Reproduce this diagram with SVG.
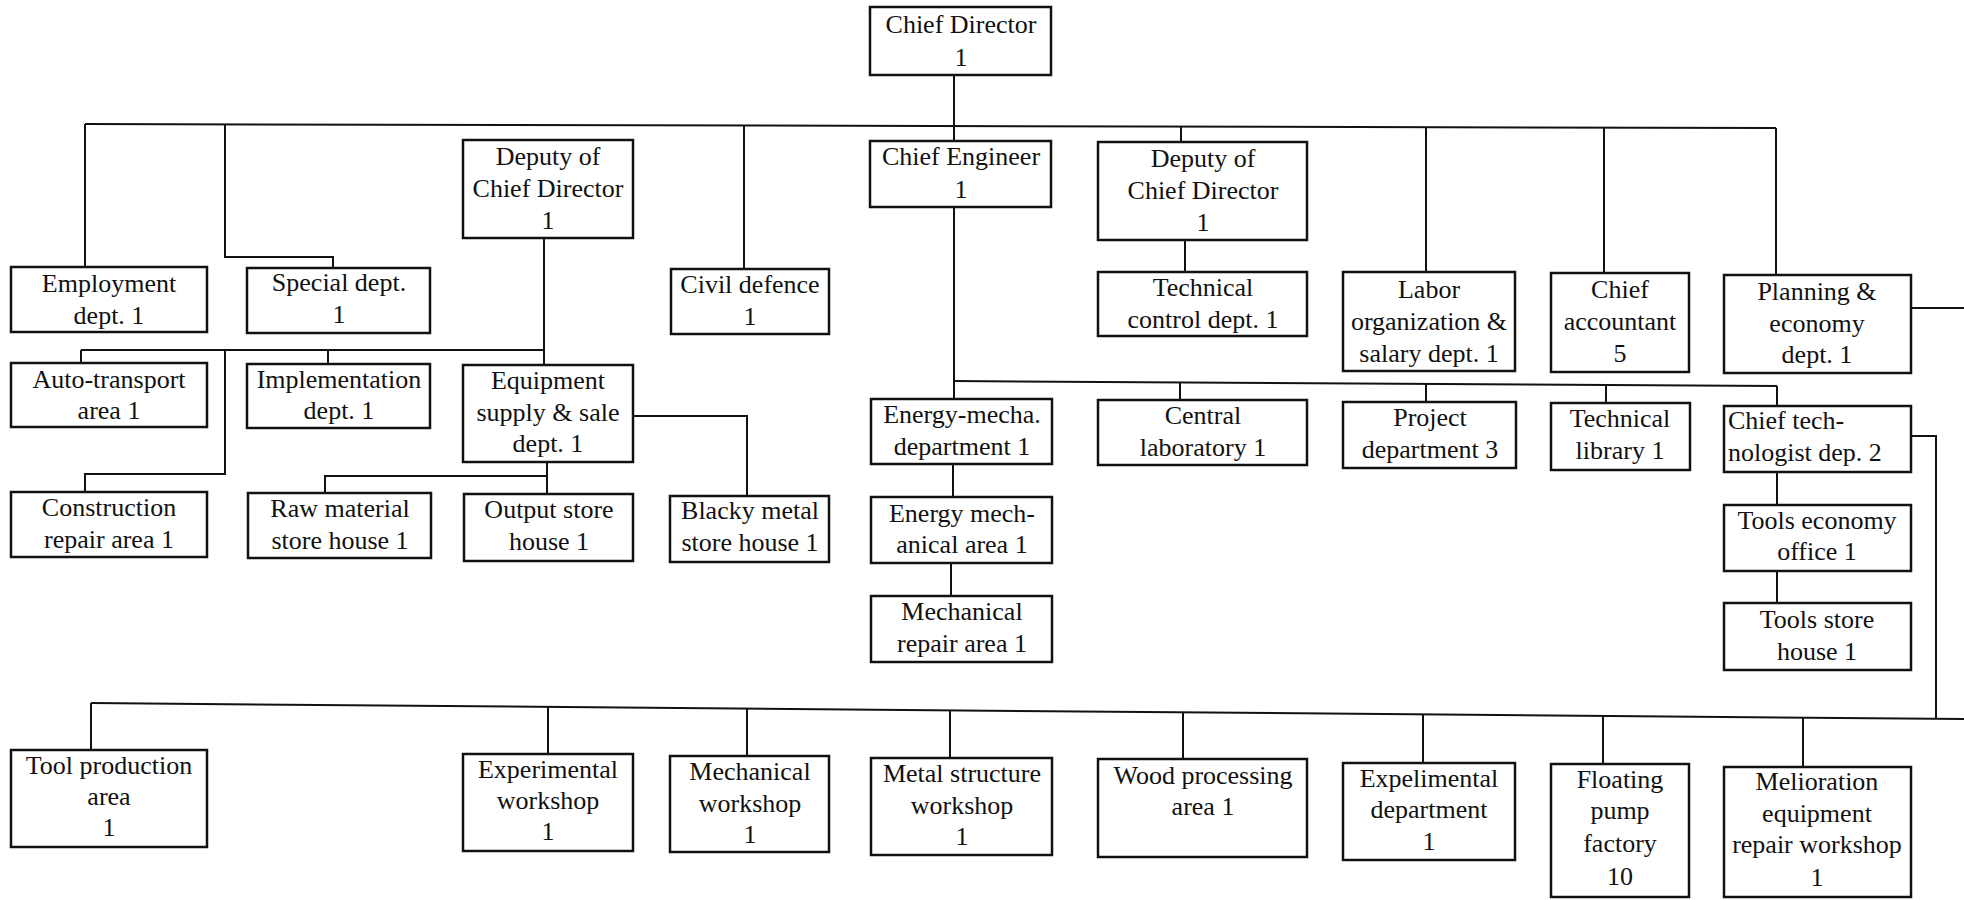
<svg xmlns="http://www.w3.org/2000/svg" width="1964" height="900" viewBox="0 0 1964 900">
<style>
rect.b{fill:#fff;stroke:#111;stroke-width:2.5}
text{font-family:"Liberation Serif","Times New Roman",serif;font-size:26px;fill:#111;text-anchor:middle}
text.l{text-anchor:start}
.c{fill:none;stroke:#111;stroke-width:2}
</style>
<rect width="1964" height="900" fill="#fff"/>
<g id="connectors" class="c">
<path d="M954 75V141"/>
<path d="M85 124L1776 128"/>
<path d="M85 124V267"/>
<path d="M225 124V257H333V268"/>
<path d="M744 125V269"/>
<path d="M1181 126V142"/>
<path d="M1426 127V272"/>
<path d="M1604 127V273"/>
<path d="M1776 128V275"/>
<path d="M544 238V365"/>
<path d="M81 350H544"/>
<path d="M81 350V363"/>
<path d="M328 350V364"/>
<path d="M225 350V474H85V492"/>
<path d="M633 416H747V496"/>
<path d="M547 462V494"/>
<path d="M547 476H325V493"/>
<path d="M1185 240V272"/>
<path d="M954 207V399"/>
<path d="M954 381L1777 386"/>
<path d="M1180 382V400"/>
<path d="M1426 384V402"/>
<path d="M1606 385V403"/>
<path d="M1777 386V406"/>
<path d="M953 464V497"/>
<path d="M951 563V596"/>
<path d="M1777 472V505"/>
<path d="M1777 571V603"/>
<path d="M1911 436H1936V718"/>
<path d="M1911 308H1964"/>
<path d="M91 703L1964 719"/>
<path d="M91 703V750"/>
<path d="M548 707V754"/>
<path d="M747 709V756"/>
<path d="M950 711V758"/>
<path d="M1183 713V759"/>
<path d="M1423 715V763"/>
<path d="M1603 717V764"/>
<path d="M1803 718V767"/>
</g>
<g id="chief-director"><rect class="b" x="870" y="7" width="181" height="68"/><text><tspan x="961" y="33">Chief Director</tspan><tspan x="961" y="66">1</tspan></text></g>
<g id="deputy-left"><rect class="b" x="463" y="140" width="170" height="98"/><text><tspan x="548" y="165">Deputy of</tspan><tspan x="548" y="197">Chief Director</tspan><tspan x="548" y="229">1</tspan></text></g>
<g id="chief-engineer"><rect class="b" x="870" y="141" width="181" height="66"/><text><tspan x="961" y="165">Chief Engineer</tspan><tspan x="961" y="198">1</tspan></text></g>
<g id="deputy-right"><rect class="b" x="1098" y="142" width="209" height="98"/><text><tspan x="1203" y="167">Deputy of</tspan><tspan x="1203" y="199">Chief Director</tspan><tspan x="1203" y="231">1</tspan></text></g>
<g id="employment"><rect class="b" x="11" y="267" width="196" height="65"/><text><tspan x="109" y="292">Employment</tspan><tspan x="109" y="324">dept. 1</tspan></text></g>
<g id="special"><rect class="b" x="247" y="268" width="183" height="65"/><text><tspan x="339" y="291">Special dept.</tspan><tspan x="339" y="323">1</tspan></text></g>
<g id="civil-defence"><rect class="b" x="671" y="269" width="158" height="65"/><text><tspan x="750" y="293">Civil defence</tspan><tspan x="750" y="325">1</tspan></text></g>
<g id="technical-control"><rect class="b" x="1098" y="272" width="209" height="64"/><text><tspan x="1203" y="296">Technical</tspan><tspan x="1203" y="328">control dept. 1</tspan></text></g>
<g id="labor"><rect class="b" x="1343" y="272" width="172" height="99"/><text><tspan x="1429" y="298">Labor</tspan><tspan x="1429" y="330">organization &amp;</tspan><tspan x="1429" y="362">salary dept. 1</tspan></text></g>
<g id="chief-accountant"><rect class="b" x="1551" y="273" width="138" height="99"/><text><tspan x="1620" y="298">Chief</tspan><tspan x="1620" y="330">accountant</tspan><tspan x="1620" y="362">5</tspan></text></g>
<g id="planning"><rect class="b" x="1724" y="275" width="187" height="98"/><text><tspan x="1817" y="300">Planning &amp;</tspan><tspan x="1817" y="332">economy</tspan><tspan x="1817" y="363">dept. 1</tspan></text></g>
<g id="auto-transport"><rect class="b" x="11" y="363" width="196" height="64"/><text><tspan x="109" y="388">Auto-transport</tspan><tspan x="109" y="419">area 1</tspan></text></g>
<g id="implementation"><rect class="b" x="247" y="364" width="183" height="64"/><text><tspan x="339" y="388">Implementation</tspan><tspan x="339" y="419">dept. 1</tspan></text></g>
<g id="equipment"><rect class="b" x="463" y="365" width="170" height="97"/><text><tspan x="548" y="389">Equipment</tspan><tspan x="548" y="421">supply &amp; sale</tspan><tspan x="548" y="452">dept. 1</tspan></text></g>
<g id="construction"><rect class="b" x="11" y="492" width="196" height="65"/><text><tspan x="109" y="516">Construction</tspan><tspan x="109" y="548">repair area 1</tspan></text></g>
<g id="raw-material"><rect class="b" x="248" y="493" width="183" height="65"/><text><tspan x="340" y="517">Raw material</tspan><tspan x="340" y="549">store house 1</tspan></text></g>
<g id="output-store"><rect class="b" x="464" y="494" width="169" height="67"/><text><tspan x="549" y="518">Output store</tspan><tspan x="549" y="550">house 1</tspan></text></g>
<g id="blacky-metal"><rect class="b" x="670" y="496" width="159" height="66"/><text><tspan x="750" y="519">Blacky metal</tspan><tspan x="750" y="551">store house 1</tspan></text></g>
<g id="energy-mecha"><rect class="b" x="871" y="399" width="181" height="65"/><text><tspan x="962" y="423">Energy-mecha.</tspan><tspan x="962" y="455">department 1</tspan></text></g>
<g id="central-lab"><rect class="b" x="1098" y="400" width="209" height="65"/><text><tspan x="1203" y="424">Central</tspan><tspan x="1203" y="456">laboratory 1</tspan></text></g>
<g id="project"><rect class="b" x="1343" y="402" width="173" height="66"/><text><tspan x="1430" y="426">Project</tspan><tspan x="1430" y="458">department 3</tspan></text></g>
<g id="technical-library"><rect class="b" x="1551" y="403" width="139" height="67"/><text><tspan x="1620" y="427">Technical</tspan><tspan x="1620" y="459">library 1</tspan></text></g>
<g id="chief-technologist"><rect class="b" x="1724" y="406" width="187" height="66"/><text class="l"><tspan x="1728" y="429">Chief tech-</tspan><tspan x="1728" y="461">nologist dep. 2</tspan></text></g>
<g id="energy-mech-area"><rect class="b" x="871" y="497" width="181" height="66"/><text><tspan x="962" y="522">Energy mech-</tspan><tspan x="962" y="553">anical area 1</tspan></text></g>
<g id="tools-economy"><rect class="b" x="1724" y="505" width="187" height="66"/><text><tspan x="1817" y="529">Tools economy</tspan><tspan x="1817" y="560">office 1</tspan></text></g>
<g id="mechanical-repair"><rect class="b" x="871" y="596" width="181" height="66"/><text><tspan x="962" y="620">Mechanical</tspan><tspan x="962" y="652">repair area 1</tspan></text></g>
<g id="tools-store"><rect class="b" x="1724" y="603" width="187" height="67"/><text><tspan x="1817" y="628">Tools store</tspan><tspan x="1817" y="660">house 1</tspan></text></g>
<g id="tool-production"><rect class="b" x="11" y="750" width="196" height="97"/><text><tspan x="109" y="774">Tool production</tspan><tspan x="109" y="805">area</tspan><tspan x="109" y="836">1</tspan></text></g>
<g id="experimental-workshop"><rect class="b" x="463" y="754" width="170" height="97"/><text><tspan x="548" y="778">Experimental</tspan><tspan x="548" y="809">workshop</tspan><tspan x="548" y="840">1</tspan></text></g>
<g id="mechanical-workshop"><rect class="b" x="670" y="756" width="159" height="96"/><text><tspan x="750" y="780">Mechanical</tspan><tspan x="750" y="812">workshop</tspan><tspan x="750" y="843">1</tspan></text></g>
<g id="metal-structure"><rect class="b" x="871" y="758" width="181" height="97"/><text><tspan x="962" y="782">Metal structure</tspan><tspan x="962" y="814">workshop</tspan><tspan x="962" y="845">1</tspan></text></g>
<g id="wood-processing"><rect class="b" x="1098" y="759" width="209" height="98"/><text><tspan x="1203" y="784">Wood processing</tspan><tspan x="1203" y="815">area 1</tspan></text></g>
<g id="expelimental-department"><rect class="b" x="1343" y="763" width="172" height="97"/><text><tspan x="1429" y="787">Expelimental</tspan><tspan x="1429" y="818">department</tspan><tspan x="1429" y="850">1</tspan></text></g>
<g id="floating-pump"><rect class="b" x="1551" y="764" width="138" height="133"/><text><tspan x="1620" y="788">Floating</tspan><tspan x="1620" y="819">pump</tspan><tspan x="1620" y="852">factory</tspan><tspan x="1620" y="885">10</tspan></text></g>
<g id="melioration"><rect class="b" x="1724" y="767" width="187" height="130"/><text><tspan x="1817" y="790">Melioration</tspan><tspan x="1817" y="822">equipment</tspan><tspan x="1817" y="853">repair workshop</tspan><tspan x="1817" y="886">1</tspan></text></g>
</svg>
